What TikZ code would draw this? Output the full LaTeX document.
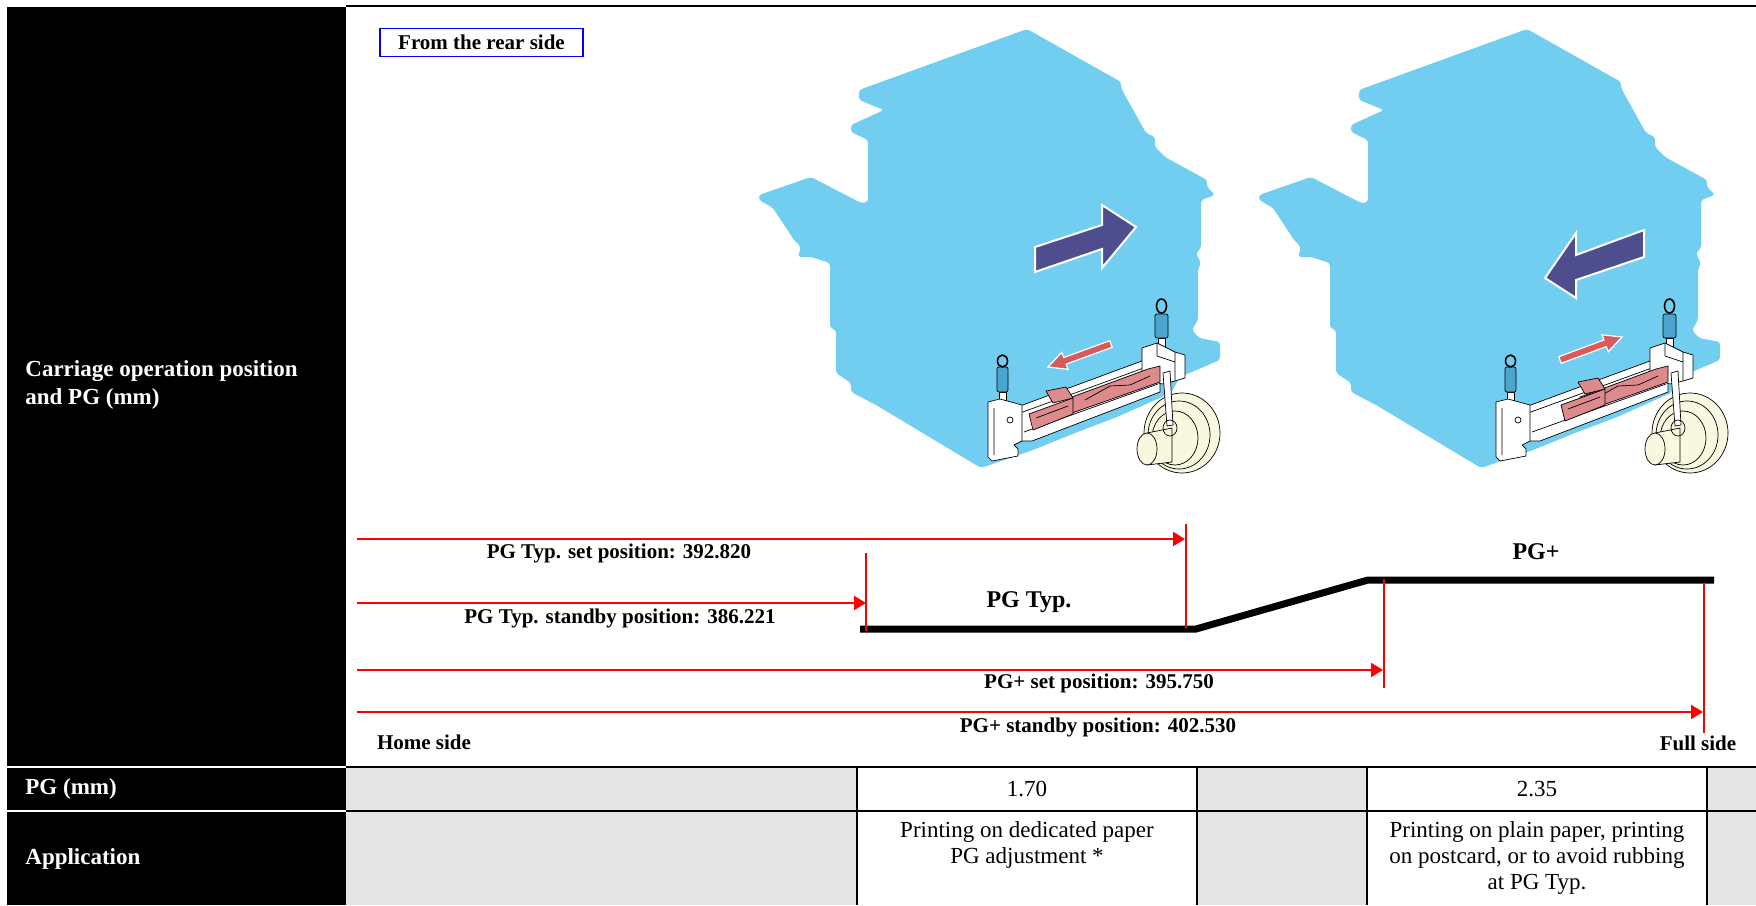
\documentclass[tikz,border=0pt]{standalone}
\usepackage{fontspec}
\setmainfont{Liberation Serif}
\usetikzlibrary{arrows.meta,calc}
\definecolor{bodyblue}{HTML}{72CEF0}
\definecolor{movearrow}{HTML}{4E4D8E}
\definecolor{slidered}{HTML}{D95A5A}
\definecolor{partpink}{HTML}{DC8A8C}
\definecolor{postblue}{HTML}{4AA6CF}
\definecolor{rollercream}{HTML}{F8F7DF}
\definecolor{cellgray}{HTML}{E5E5E5}
\tikzset{
    posline/.style={red, line width=1pt, -{Triangle[length=6pt,width=7pt]}},
    tickline/.style={red, line width=0.9pt},
    poslabel/.style={font=\bfseries\fontsize{10.5}{12}\selectfont, inner sep=0pt},
    gaplabel/.style={font=\bfseries\fontsize{12}{14}\selectfont, inner sep=0pt},
    rowhead/.style={white, anchor=west, align=left, inner sep=0pt, font=\bfseries\fontsize{11.5}{14}\selectfont},
    celltext/.style={align=center, inner sep=0pt, font=\fontsize{11.5}{13.2}\selectfont},
    part/.style={draw=black, line width=0.35pt, line join=round},
    bigarrow/.style={fill=movearrow, draw=white, line width=1pt},
    smallarrow/.style={fill=slidered, draw=white, line width=0.6pt}
}
\begin{document}
\begin{tikzpicture}[x=0.5pt,y=-0.5pt]
\useasboundingbox (0,0) rectangle (1756,905);
% table
\fill[black] (7,7) rectangle (346,905);
\foreach \xa/\xb in {346/857,1197/1367,1707/1756}
    \fill[cellgray] (\xa,767) rectangle (\xb,905);
\draw[line width=1.2pt] (346,6) -- (1756,6);
\draw[line width=1.4pt] (346,767) -- (1756,767);
\draw[line width=0.7pt] (346,811) -- (1756,811);
\foreach \x in {857,1197,1367,1707}
    \draw[line width=0.7pt] (\x,767) -- (\x,905);
\draw[white, line width=0.7pt] (7,767) -- (346,767) (7,811) -- (346,811);
\node[rowhead] (carr) at (25,385) {Carriage operation position\\and PG (mm)};
\node[rowhead] (pgmm) at (25,789) {PG (mm)};
\node[rowhead] (appl) at (25,859) {Application};
\node[celltext] (typval) at (1027,789) {1.70};
\node[celltext] (plusval) at (1537,789) {2.35};
\node[celltext] (typuse) at (1027,845) {Printing on dedicated paper\\PG adjustment *};
\node[celltext] (plususe) at (1537,858) {Printing on plain paper, printing\\on postcard, or to avoid rubbing\\at PG Typ.};
\node[draw=blue, line width=0.8pt, minimum width=101.5pt, minimum height=14pt, inner sep=0pt, font=\bfseries\fontsize{10.5}{12}\selectfont] (rear) at (481.5,42.5) {From the rear side};
% printer bodies
\foreach \dx in {0,500}{
\begin{scope}[shift={(\dx,0)}]
\fill[bodyblue, rounded corners=1.5pt] (859,90) -- (1027,29) -- (1121,82) -- (1121,88) -- (1146,133) -- (1155,137) -- (1155,147) -- (1165,157) -- (1207,180) -- (1207,187) -- (1215,195) -- (1201,200) -- (1201,248) -- (1196,253) -- (1198,258) -- (1201,262) -- (1198,270) -- (1198,320) -- (1192,330) -- (1199,338) -- (1220,342) -- (1220,360) -- (1180,377) -- (1171,393) -- (1117,417) -- (1075,433) -- (1033,450) -- (981,468) -- (876,405) -- (851,392) -- (851,383) -- (836,373) -- (836,330) -- (830,328) -- (830,263) -- (811,257) -- (798,257) -- (801,247) -- (794,240) -- (773,208) -- (759,200) -- (759,195) -- (811,177) -- (861,203) -- (868,202) -- (868,140) -- (851,132) -- (851,125) -- (884,110) -- (859,100) -- cycle;
\end{scope}}
% carriage, roller
\foreach \cx/\sx/\sy in {0/0/0,508/24/-9}{
\begin{scope}[shift={(\cx,0)}]
\draw[part, fill=postblue, rounded corners=1pt] (997,367) rectangle (1008,392);
\draw[part, fill=white] (999,392) rectangle (1006,402);
\draw[part, line width=0.8pt] (1002.5,361) ellipse (5 and 6);
\draw[part, fill=postblue, rounded corners=1pt] (1155,314) rectangle (1168,338);
\draw[part, fill=white] (1158,338) rectangle (1165,347);
\draw[part, line width=0.8pt] (1161.5,306) ellipse (5 and 7);
\draw[part, fill=white] (1020,406) -- (1150,358) -- (1160,363) -- (1160,392) -- (1032,441) -- (1020,441) -- cycle;
\draw[part] (1020,413) -- (1152,365) (1024,432) -- (1158,384);
\draw[part, fill=white] (988,402) -- (1000,399) -- (1022,405) -- (1022,441) -- (1014,445) -- (1018,449) -- (1018,456) -- (992,461) -- (988,457) -- cycle;
\draw[part] (994,408) -- (994,455) (1010,420) circle (3);
\draw[part, fill=white] (1142,348) -- (1157,343) -- (1175,352) -- (1185,355) -- (1185,378) -- (1175,381) -- (1162,384) -- (1142,378) -- cycle;
\draw[part] (1157,343) -- (1157,356) -- (1175,362) -- (1175,381) (1175,352) -- (1175,362);
\draw[part, fill=partpink] (1072,397) -- (1148,369) -- (1160,366) -- (1160,382) -- (1072,413) -- cycle;
\draw[part] (1085,400) -- (1110,386) -- (1130,385) -- (1150,376);
\begin{scope}[shift={(\sx,\sy)}]
\draw[part, fill=partpink] (1029,414) -- (1073,398) -- (1073,414) -- (1033,430) -- cycle;
\draw[part, fill=partpink] (1046,391) -- (1066,387) -- (1073,398) -- (1053,403) -- cycle;
\draw[part] (1036,418) -- (1068,406);
\end{scope}
\draw[part, fill=rollercream] (1182,433) ellipse (38 and 40);
\draw[part] (1179,435) ellipse (31 and 34);
\draw[part] (1175,438) ellipse (23 and 27);
\draw[part, fill=rollercream] (1147,433) -- (1172,428) -- (1172,462) -- (1147,465) -- cycle;
\draw[part, fill=rollercream] (1147,449) ellipse (10 and 16);
\draw[part, fill=white] (1163,373) -- (1170,371) -- (1173,425) -- (1167,426) -- cycle;
\draw[part] (1170,428) ellipse (7 and 8);
\end{scope}}
% moving direction
\draw[bigarrow] (1035,247) -- (1102,225) -- (1102,205) -- (1136,227) -- (1102,268) -- (1102,249) -- (1035,272) -- cycle;
\draw[bigarrow] (1644,230) -- (1576,255) -- (1576,233) -- (1545,278) -- (1576,298) -- (1576,280) -- (1644,257) -- cycle;
\draw[smallarrow] (1109.8,340.7) -- (1063.7,357.5) -- (1061.8,352.3) -- (1048,367) -- (1068,369.3) -- (1066.1,364.1) -- (1112.2,347.3) -- cycle;
\draw[smallarrow] (1558.8,356.7) -- (1603.9,340) -- (1602,334.8) -- (1622,337) -- (1608.2,351.8) -- (1606.3,346.6) -- (1561.2,363.3) -- cycle;
% positions
\coordinate (home1) at (357,539);
\coordinate (typset) at (1185,539);
\coordinate (home2) at (357,603);
\coordinate (typstb) at (866,603);
\coordinate (home3) at (357,670);
\coordinate (plusset) at (1383,670);
\coordinate (home4) at (357,712);
\coordinate (plusstb) at (1703,712);
\draw[line width=3.5pt] (860,629) -- (1196,629) -- (1368,580) -- (1714,580);
\draw[tickline] (1186,524) -- (1186,628);
\draw[tickline] (866,553) -- (866,631);
\draw[tickline] (1384,579) -- (1384,688);
\draw[tickline] (1704,583) -- (1704,733);
\draw[posline] (home1) -- (typset);
\draw[posline] (home2) -- (typstb);
\draw[posline] (home3) -- (plusset);
\draw[posline] (home4) -- (plusstb);
\node[poslabel] (typsetl) at (619,553) {PG Typ. set position: 392.820};
\node[poslabel] (typstbl) at (620,618) {PG Typ. standby position: 386.221};
\node[poslabel] (plussetl) at (1099,683) {PG+ set position: 395.750};
\node[poslabel] (plusstbl) at (1098,727) {PG+ standby position: 402.530};
\node[poslabel] (homel) at (424,742) {Home side};
\node[poslabel] (fulll) at (1698,743) {Full side};
\node[gaplabel] (typl) at (1029,602) {PG Typ.};
\node[gaplabel] (plusl) at (1536,552) {PG+};
\end{tikzpicture}
\end{document}
